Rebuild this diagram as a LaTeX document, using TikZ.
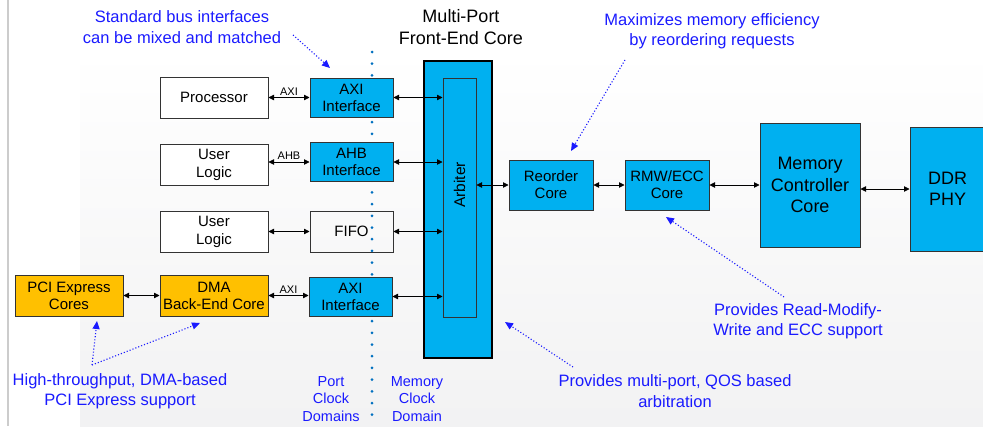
\documentclass[tikz,border=0pt]{standalone}
\usepackage{fontspec}
\setmainfont{Liberation Sans}
\usetikzlibrary{positioning, arrows.meta, calc}

\definecolor{ipblue}{RGB}{0,176,240}
\definecolor{ipgold}{RGB}{255,192,0}
\definecolor{noteblue}{RGB}{26,26,255}
\definecolor{clkblue}{RGB}{0,112,192}
\newcommand{\fsz}[2]{\fontsize{#1}{#2}\selectfont}

\begin{document}
\begin{tikzpicture}[x=1pt, y=-1pt,
        userbox/.style={rectangle, draw=black!80, line width=1pt, fill=white, minimum width=108pt, minimum height=41pt, inner sep=0pt, align=center, font=\fsz{15}{18}},
        portbox/.style={userbox, fill=ipblue, minimum width=83pt, minimum height=39pt, font=\fsz{15}{17}},
        pciebox/.style={userbox, fill=ipgold, font=\fsz{15}{17}},
        corebox/.style={userbox, fill=ipblue, minimum width=84pt, minimum height=50pt, font=\fsz{15}{17}},
        bigbox/.style={userbox, fill=ipblue, minimum height=124pt, font=\fsz{18}{21.5}},
        link/.style={{Triangle[length=5.5pt,width=5.5pt]}-{Triangle[length=5.5pt,width=5.5pt]}, line width=0.8pt},
        buslbl/.style={above, inner sep=2pt, font=\fsz{11}{13}},
        note/.style={text=noteblue, align=center, font=\fsz{16.5}{20.5}},
        pointer/.style={-{Triangle[length=8pt,width=7pt]}, noteblue, dotted, line width=1.1pt},
    ]
        \useasboundingbox (0,0) rectangle (983,426);
        \shade[top color=white, bottom color=blue!3!gray!10] (80,50) rectangle (983,426);
        \draw[gray!40, line width=2pt] (8,0) -- (8,426);
        % clock domain boundary
        \draw[clkblue, line width=3pt, line cap=round, dash pattern=on 0pt off 11.7pt] (372,52) -- (372,426);

        \node[userbox] (proc) at (214,97.5) {Processor};
        \node[userbox, below=25pt of proc] (ulog) {User\\Logic};
        \node[userbox, below=25pt of ulog] (fulog) {User\\Logic};
        \node[pciebox, below=22pt of fulog] (dma) {DMA\\Back-End Core};
        \node[pciebox, left=36pt of dma] (pcie) {PCI Express\\Cores};

        \node[portbox, right=41pt of proc] (axia) {AXI\\Interface};
        \node[portbox, right=41pt of ulog, yshift=2.5pt] (ahb) {AHB\\Interface};
        \node[portbox, fill=none, minimum height=41pt, right=41pt of fulog] (fifo) {FIFO};
        \node[portbox, right=40pt of dma, yshift=-1pt] (axib) {AXI\\Interface};

        \node[rectangle, draw=black, line width=2.5pt, fill=ipblue, minimum width=68pt, minimum height=297pt] (fe) at (458,209.5) {};
        \node[rectangle, draw=black!80, line width=1pt, fill=ipblue, minimum width=33pt, minimum height=239pt] (arb) at (459.5,197.5) {};
        \node[align=center, font=\fsz{18}{22}] (fetitle) at (461,27) {Multi-Port\\Front-End Core};

        \node[corebox] (reord) at (551,185) {Reorder\\Core};
        \node[corebox, right=31pt of reord] (rmw) {RMW/ECC\\Core};
        \node[bigbox, minimum width=100pt, right=50pt of rmw] (mcc) {Memory\\Controller\\Core};
        \node[bigbox, minimum width=75pt, right=49pt of mcc, yshift=-4pt] (ddr) {DDR\\PHY};
        \node[rotate=90, font=\fsz{15.5}{17}] (arblbl) at (arb.center |- reord.west) {Arbiter};

        \draw[link] (proc) -- node[buslbl] {AXI} (axia);
        \draw[link] (ulog.east |- ahb) -- node[buslbl] {AHB} (ahb.west);
        \draw[link] (fulog) -- (fifo);
        \draw[link] (pcie) -- (dma);
        \draw[link] (dma) -- node[buslbl] {AXI} (axib.west |- dma);
        \foreach \p in {axia, ahb, fifo, axib}
            \draw[link] (\p.east) -- (\p.east -| arb.west);
        \draw[link] (arb.east |- reord) -- (reord.west);
        \draw[link] (reord) -- (rmw);
        \draw[link] (rmw) -- (mcc);
        \draw[link] (mcc.east |- ddr) -- (ddr.west);

        % notes
        \node[note] (busnote) at (182,27) {Standard bus interfaces\\can be mixed and matched};
        \node[note] (reordnote) at (712,31) {Maximizes memory efficiency\\by reordering requests};
        \node[note] (rmwnote) at (798,321) {Provides Read-Modify-\\Write and ECC support};
        \node[note] (qosnote) at (675,391) {Provides multi-port, QOS based\\arbitration};
        \node[note] (pcienote) at (120,391) {High-throughput, DMA-based\\PCI Express support};
        \node[note, font=\fsz{14.5}{17.5}] (portclk) at (331,399) {Port\\Clock\\Domains};
        \node[note, font=\fsz{14.5}{17.5}] (memclk) at (417,399) {Memory\\Clock\\Domain};

        \coordinate (busfrom) at (293,35);
        \coordinate (bustip) at (330,68);
        \coordinate (reordfrom) at (625,60);
        \coordinate (reordtip) at (571,151);
        \coordinate (rmwfrom) at (784,297);
        \coordinate (rmwtip) at (666,217);
        \coordinate (qosfrom) at (573,367);
        \coordinate (qostip) at (505,322);
        \coordinate (pcifork) at (92,365);
        \coordinate (pcietip) at (97,321);
        \coordinate (dmatip) at (200,323);

        \draw[pointer] (busfrom) -- (bustip);
        \draw[pointer] (reordfrom) -- (reordtip);
        \draw[pointer] (rmwfrom) -- (rmwtip);
        \draw[pointer] (qosfrom) -- (qostip);
        \draw[pointer] (pcifork) -- (pcietip);
        \draw[pointer] (pcifork) -- (dmatip);
    \end{tikzpicture}
\end{document}
